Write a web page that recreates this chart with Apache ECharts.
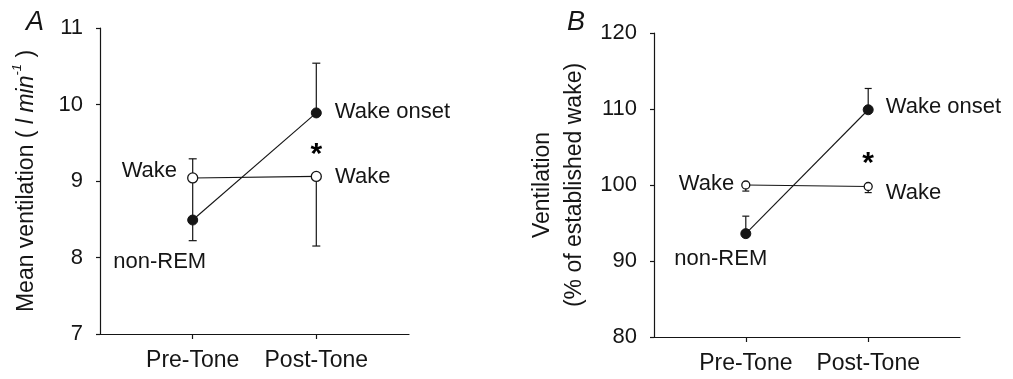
<!DOCTYPE html>
<html>
<head>
<meta charset="utf-8">
<script src="https://cdn.jsdelivr.net/npm/echarts@6/dist/echarts.min.js"></script>
<style>
html, body { margin: 0; padding: 0; background: #fff; }
#main { width: 1013px; height: 379px; }
</style>
</head>
<body>
<div id="main"></div>
<script>
var categories = ['Pre-Tone', 'Post-Tone'];
var stateNames = ['Wake', 'non-REM', 'Wake onset'];

// A: mean ventilation (l/min)
var yTicksA = [7, 8, 9, 10, 11];
var wakeA = [9.04, 9.06];
var wakeLowA = [8.49, 8.15];
var wakeHighA = [9.29, 9.06];
var onsetA = [8.49, 9.89];      // non-REM at pre-tone, wake onset at post-tone
var onsetLowA = [8.22, 9.89];
var onsetHighA = [8.49, 10.54];
var starA = 9.43;

// B: ventilation (% of established wake)
var yTicksB = [80, 90, 100, 110, 120];
var wakeB = [100.0, 99.8];
var wakeLowB = [99.2, 99.0];
var wakeHighB = [100.0, 99.8];
var onsetB = [93.6, 109.9];
var onsetLowB = [93.6, 109.9];
var onsetHighB = [95.9, 112.7];
var starB = 103.7;

var font = 'Liberation Sans, Arial, sans-serif';
var ink = '#151515';

function pts(vals) {
    var out = [];
    for (var i = 0; i < vals.length; i++) out.push([i + 1, vals[i]]);
    return out;
}
function errData(mean, lo, hi) {
    var out = [];
    for (var i = 0; i < mean.length; i++) out.push([i + 1, lo[i], hi[i], mean[i]]);
    return out;
}
// error bar: vertical line, cap at each end that leaves the mean
function errRender(capW) {
    return function (params, api) {
        var x = api.value(0), lo = api.value(1), hi = api.value(2), m = api.value(3);
        var a = api.coord([x, lo]), b = api.coord([x, hi]);
        var st = { stroke: ink, lineWidth: 1.2 };
        var kids = [{ type: 'line', shape: { x1: a[0], y1: a[1], x2: b[0], y2: b[1] }, style: st }];
        if (lo < m) kids.push({ type: 'line', shape: { x1: a[0] - capW, y1: a[1], x2: a[0] + capW, y2: a[1] }, style: st });
        if (hi > m) kids.push({ type: 'line', shape: { x1: b[0] - capW, y1: b[1], x2: b[0] + capW, y2: b[1] }, style: st });
        return { type: 'group', children: kids };
    };
}
function lbl(text, pos, dist, off) {
    return { show: true, formatter: text, position: pos, distance: dist, offset: off,
        color: ink, fontSize: 22, fontFamily: font };
}
function xAx(idx) {
    return {
        type: 'value', gridIndex: idx, min: 0.25, max: 2.75,
        splitLine: { show: false },
        axisLine: { lineStyle: { color: ink, width: 1.2 } },
        axisTick: { customValues: [1, 2], length: 5, lineStyle: { color: ink, width: 1.2 } },
        axisLabel: { customValues: [1, 2], margin: 15, color: ink, fontSize: 23, fontFamily: font,
            formatter: function (v) { return categories[Math.round(v) - 1]; } }
    };
}
function yAx(idx, ticks, name, gap) {
    return {
        type: 'value', gridIndex: idx,
        min: ticks[0], max: ticks[ticks.length - 1], interval: ticks[1] - ticks[0],
        splitLine: { show: false },
        axisLine: { show: true, lineStyle: { color: ink, width: 1.2 } },
        axisTick: { show: true, length: 4, lineStyle: { color: ink, width: 1.2 } },
        axisLabel: { margin: 17, color: ink, fontSize: 22, fontFamily: font },
        name: name, nameLocation: 'middle', nameRotate: 90, nameGap: gap,
        nameTextStyle: {
            color: ink, fontSize: 23, fontFamily: font, lineHeight: 32,
            rich: {
                it: { fontStyle: 'italic', fontSize: 23, fontFamily: font, color: ink },
                sup: { fontStyle: 'italic', fontSize: 13, fontFamily: font, color: ink, verticalAlign: 'top', padding: [0, 0, 10, 0] }
            }
        }
    };
}
function star(xi, yi, val) {
    return {
        type: 'scatter', xAxisIndex: xi, yAxisIndex: yi, z: 4, symbolSize: 2,
        itemStyle: { color: 'rgba(0,0,0,0)', opacity: 1 },
        label: { show: true, position: 'inside', formatter: '*', fontSize: 30, fontWeight: 'bold',
            fontFamily: font, color: '#000', opacity: 1, offset: [0, 7] },
        data: [[2, val]]
    };
}

var myChart = echarts.init(document.getElementById('main'));
var option = {
    backgroundColor: '#fff',
    animation: false,
    title: [
        { text: 'A', left: 21, top: 4, textStyle: { fontStyle: 'italic', fontWeight: 'normal', fontSize: 27, fontFamily: font, color: ink } },
        { text: 'B', left: 562, top: 4, textStyle: { fontStyle: 'italic', fontWeight: 'normal', fontSize: 27, fontFamily: font, color: ink } }
    ],
    grid: [
        { left: 100, top: 28, width: 309, height: 306 },
        { left: 654, top: 33, width: 306, height: 304 }
    ],
    xAxis: [xAx(0), xAx(1)],
    yAxis: [
        yAx(0, yTicksA, 'Mean ventilation ( {it|l min}{sup|-1} )', 57),
        yAx(1, yTicksB, 'Ventilation\n(% of established wake)', 63)
    ],
    series: [
        // ---- A ----
        { type: 'custom', xAxisIndex: 0, yAxisIndex: 0, z: 1, renderItem: errRender(4), data: errData(wakeA, wakeLowA, wakeHighA) },
        { type: 'custom', xAxisIndex: 0, yAxisIndex: 0, z: 1, renderItem: errRender(4), data: errData(onsetA, onsetLowA, onsetHighA) },
        {
            type: 'line', xAxisIndex: 0, yAxisIndex: 0, z: 3,
            symbol: 'circle', symbolSize: 10,
            itemStyle: { color: '#fff', borderColor: ink, borderWidth: 1.3 },
            lineStyle: { color: ink, width: 1.1 },
            data: [
                { value: pts(wakeA)[0], label: lbl(stateNames[0], 'left', 10, [0, -7]) },
                { value: pts(wakeA)[1], label: lbl(stateNames[0], 'right', 13, [0, 1]) }
            ]
        },
        {
            type: 'line', xAxisIndex: 0, yAxisIndex: 0, z: 3,
            symbol: 'circle', symbolSize: 10,
            itemStyle: { color: ink, borderColor: ink, borderWidth: 1 },
            lineStyle: { color: ink, width: 1.1 },
            data: [
                { value: pts(onsetA)[0], label: lbl(stateNames[1], 'bottom', 25, [-33, 0]) },
                { value: pts(onsetA)[1], label: lbl(stateNames[2], 'right', 13, [0, -1]) }
            ]
        },
        star(0, 0, starA),
        // ---- B ----
        { type: 'custom', xAxisIndex: 1, yAxisIndex: 1, z: 1, renderItem: errRender(3.5), data: errData(wakeB, wakeLowB, wakeHighB) },
        { type: 'custom', xAxisIndex: 1, yAxisIndex: 1, z: 1, renderItem: errRender(3.5), data: errData(onsetB, onsetLowB, onsetHighB) },
        {
            type: 'line', xAxisIndex: 1, yAxisIndex: 1, z: 3,
            symbol: 'circle', symbolSize: 8,
            itemStyle: { color: '#fff', borderColor: ink, borderWidth: 1.3 },
            lineStyle: { color: ink, width: 1.1 },
            data: [
                { value: pts(wakeB)[0], label: lbl(stateNames[0], 'left', 7, [0, -1]) },
                { value: pts(wakeB)[1], label: lbl(stateNames[0], 'right', 13, [0, 6]) }
            ]
        },
        {
            type: 'line', xAxisIndex: 1, yAxisIndex: 1, z: 3,
            symbol: 'circle', symbolSize: 10,
            itemStyle: { color: ink, borderColor: ink, borderWidth: 1 },
            lineStyle: { color: ink, width: 1.1 },
            data: [
                { value: pts(onsetB)[0], label: lbl(stateNames[1], 'bottom', 9, [-25, 0]) },
                { value: pts(onsetB)[1], label: lbl(stateNames[2], 'right', 12, [0, -3]) }
            ]
        },
        star(1, 1, starB)
    ]
};
myChart.setOption(option);
</script>
</body>
</html>
